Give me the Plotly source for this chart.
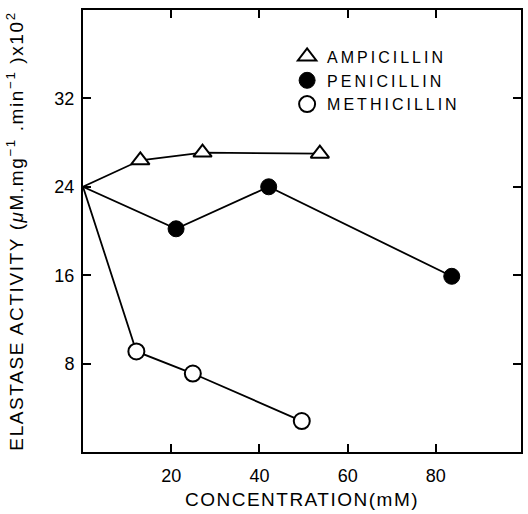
import plotly.graph_objects as go

# Data
origin_x = 0
origin_y = 24

amp_x = [13.0, 27.1, 53.7]
amp_y = [26.4, 27.1, 27.0]

pen_x = [21.1, 42.1, 83.6]
pen_y = [20.2, 24.0, 15.9]

met_x = [12.1, 24.9, 49.6]
met_y = [9.1, 7.1, 2.8]

x_ticks = [20, 40, 60, 80]
y_ticks = [8, 16, 24, 32]

FONT = "Liberation Sans, Arial, sans-serif"

fig = go.Figure()

series = [
    ("AMPICILLIN", amp_x, amp_y, dict(symbol="triangle-up", size=16, color="white",
                                      line=dict(color="black", width=2))),
    ("PENICILLIN", pen_x, pen_y, dict(symbol="circle", size=16, color="black",
                                      line=dict(color="black", width=1))),
    ("METHICILLIN", met_x, met_y, dict(symbol="circle", size=16, color="white",
                                       line=dict(color="black", width=2))),
]

# connecting lines (start from common origin point)
for name, xs, ys, mk in series:
    fig.add_trace(go.Scatter(
        x=[origin_x] + xs, y=[origin_y] + ys, mode="lines",
        line=dict(color="black", width=1.8), showlegend=False, hoverinfo="skip",
        cliponaxis=False,
    ))

# markers
for name, xs, ys, mk in series:
    fig.add_trace(go.Scatter(
        x=xs, y=ys, mode="markers", name=name, marker=mk, showlegend=True,
        cliponaxis=False,
    ))

fig.update_layout(
    width=528, height=514,
    margin=dict(l=83, r=7, t=10, b=62),
    paper_bgcolor="white", plot_bgcolor="white",
    font=dict(family=FONT, size=18, color="black"),
    legend=dict(
        x=0.466, y=0.933, xanchor="left", yanchor="top",
        bgcolor="rgba(0,0,0,0)", font=dict(family=FONT, size=16, color="black"),
        tracegroupgap=0, itemsizing="trace",
    ),
    xaxis=dict(
        range=[0, 99.3], tickvals=x_ticks, ticktext=[str(v) for v in x_ticks],
        ticks="inside", ticklen=8, tickwidth=2, tickcolor="black",
        showline=True, linecolor="black", linewidth=2, mirror="allticks",
        showgrid=False, zeroline=False, automargin=False, ticklabelstandoff=6,
        title=dict(text="CONCENTRATION(mM)", font=dict(family=FONT, size=19), standoff=8),
        tickfont=dict(family=FONT, size=18),
    ),
    yaxis=dict(
        range=[0, 40], tickvals=y_ticks, ticktext=[str(v) for v in y_ticks],
        ticks="inside", ticklen=8, tickwidth=2, tickcolor="black",
        showline=True, linecolor="black", linewidth=2, mirror="allticks",
        showgrid=False, zeroline=False, automargin=False, ticklabelstandoff=3,
        title=dict(text="ELASTASE ACTIVITY (<i>μ</i>M.mg<sup>−1</sup> .min<sup>−1</sup> )x10<sup>2</sup>",
                   font=dict(family=FONT, size=19), standoff=26),
        tickfont=dict(family=FONT, size=18),
    ),
)

# wider letter spacing, like the lettering of the original; remove page margin
post = """
var gd = document.getElementById('{plot_id}');
document.body.style.margin = '0';
var s = document.createElement('style');
s.textContent = '.legendtext{letter-spacing:3px;} .xtitle{letter-spacing:1.5px;} .ytitle{letter-spacing:1.6px;}';
document.head.appendChild(s);
gd.querySelectorAll('.legend .scrollbox, .legend').forEach(function(e){ e.removeAttribute('clip-path'); });
"""

fig.write_html("out.html", post_script=post, config={"displayModeBar": False})
